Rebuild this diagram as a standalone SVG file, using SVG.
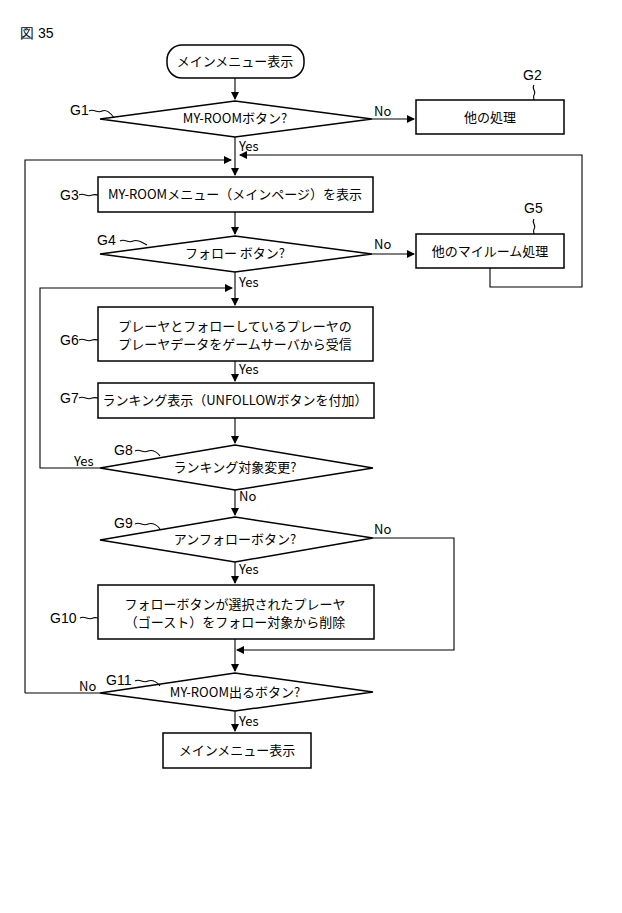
<svg xmlns="http://www.w3.org/2000/svg" width="622" height="913" viewBox="0 0 622 913">
<style>
.s{fill:#fff;stroke:#000;stroke-width:1.5}
.l{fill:none;stroke:#000;stroke-width:1.1}
text{font-family:"Noto Sans CJK JP","Liberation Sans",sans-serif;font-size:13px;fill:#000}
.c{text-anchor:middle}
.lb{font-family:"Liberation Sans",sans-serif;font-size:14px}
.y{font-family:"Liberation Sans",sans-serif;font-size:12px}
</style>
<defs><marker id="a" markerWidth="8" markerHeight="8" refX="7" refY="4" orient="auto" markerUnits="userSpaceOnUse"><path d="M0,0 L8,4 L0,8z"/></marker></defs>
<rect width="622" height="913" fill="#fff"/>
<text x="20" y="38" class="lb">図 35</text>
<g id="connectors" class="l">
<path d="M235,78V99" marker-end="url(#a)"/>
<path d="M372,119H414" marker-end="url(#a)"/>
<path d="M235,137V175" marker-end="url(#a)"/>
<path d="M25,693V160H231" marker-end="url(#a)"/>
<path d="M490,268V287H582V155H240" marker-end="url(#a)"/>
<path d="M235,212V234" marker-end="url(#a)"/>
<path d="M372,254H414" marker-end="url(#a)"/>
<path d="M235,272V305" marker-end="url(#a)"/>
<path d="M100,468H40V288H232" marker-end="url(#a)"/>
<path d="M235,361V381" marker-end="url(#a)"/>
<path d="M235,418V443" marker-end="url(#a)"/>
<path d="M235,490V515" marker-end="url(#a)"/>
<path d="M235,562V583" marker-end="url(#a)"/>
<path d="M373,538H454V650H237" marker-end="url(#a)"/>
<path d="M235,639V671" marker-end="url(#a)"/>
<path d="M100,693H25"/>
<path d="M235,711V731" marker-end="url(#a)"/>
</g>
<g class="y">
<text x="374" y="116">No</text><text x="374" y="249">No</text><text x="374" y="534">No</text>
<text x="239" y="151">Yes</text><text x="239" y="287">Yes</text><text x="239" y="374">Yes</text>
<text x="74" y="466">Yes</text><text x="239" y="501">No</text><text x="239" y="574">Yes</text>
<text x="79" y="691">No</text><text x="239" y="726">Yes</text>
</g>
<g id="start"><rect class="s" x="167" y="45" width="137" height="33" rx="15"/><text class="c" x="235" y="66">メインメニュー表示</text></g>
<g id="G1"><path class="s" d="M100,119L235,101L372,119L235,137Z"/><text class="c" x="235" y="123">MY-ROOMボタン?</text>
<text class="lb" x="70" y="115">G1</text><path class="l" d="M89,111c5,-3 8,3 13,0c4,-2 9,2 12,7"/></g>
<g id="G2"><rect class="s" x="416" y="100" width="148" height="34"/><text class="c" x="490" y="122">他の処理</text>
<text class="lb" x="523" y="80">G2</text><path class="l" d="M534,85c-3,4 3,6 0,10c-1,2 0,4 0,5"/></g>
<g id="G3"><rect class="s" x="98" y="177" width="275" height="35"/><text class="c" x="235" y="199">MY-ROOMメニュー（メインページ）を表示</text>
<text class="lb" x="60" y="200">G3</text><path class="l" d="M79,195c5,-3 8,3 13,0c3,-1 5,0 6,0"/></g>
<g id="G4"><path class="s" d="M100,254L235,236L372,254L235,272Z"/><text class="c" x="235" y="258">フォロー ボタン?</text>
<text class="lb" x="97" y="245">G4</text><path class="l" d="M120,241c5,-3 8,3 13,0c5,-2 10,2 14,4"/></g>
<g id="G5"><rect class="s" x="416" y="234" width="148" height="34"/><text class="c" x="490" y="256">他のマイルーム処理</text>
<text class="lb" x="524" y="213">G5</text><path class="l" d="M534,219c-3,4 3,6 0,10c-1,2 0,4 0,5"/></g>
<g id="G6"><rect class="s" x="98" y="307" width="275" height="54"/><text class="c" x="235" y="331">プレーヤとフォローしているプレーヤの</text><text class="c" x="235" y="349">プレーヤデータをゲームサーバから受信</text>
<text class="lb" x="60" y="345">G6</text><path class="l" d="M79,340c5,-3 8,3 13,0c3,-1 5,0 6,0"/></g>
<g id="G7"><rect class="s" x="98" y="383" width="276" height="35"/><text class="c" x="235" y="405">ランキング表示（UNFOLLOWボタンを付加）</text>
<text class="lb" x="60" y="403">G7</text><path class="l" d="M79,398c5,-3 8,3 13,0c3,-1 5,0 6,0"/></g>
<g id="G8"><path class="s" d="M100,468L235,445L373,468L235,490Z"/><text class="c" x="235" y="472">ランキング対象変更?</text>
<text class="lb" x="114" y="455">G8</text><path class="l" d="M135,451c5,-3 8,3 13,0c5,-2 10,2 12,5"/></g>
<g id="G9"><path class="s" d="M100,540L235,517L373,538L235,562Z"/><text class="c" x="235" y="544">アンフォローボタン?</text>
<text class="lb" x="114" y="528">G9</text><path class="l" d="M135,524c5,-3 8,3 13,0c5,-2 10,2 12,5"/></g>
<g id="G10"><rect class="s" x="98" y="585" width="276" height="54"/><text class="c" x="235" y="609">フォローボタンが選択されたプレーヤ</text><text class="c" x="235" y="627">（ゴースト）をフォロー対象から削除</text>
<text class="lb" x="50" y="623">G10</text><path class="l" d="M80,618c5,-3 8,3 13,0c2,-1 4,0 5,0"/></g>
<g id="G11"><path class="s" d="M100,693L235,673L373,692L235,711Z"/><text class="c" x="235" y="697">MY-ROOM出るボタン?</text>
<text class="lb" x="106" y="685">G11</text><path class="l" d="M135,681c5,-3 8,3 13,0c5,-2 10,2 12,5"/></g>
<g id="end"><rect class="s" x="163" y="733" width="148" height="35"/><text class="c" x="237" y="755">メインメニュー表示</text></g>
</svg>
